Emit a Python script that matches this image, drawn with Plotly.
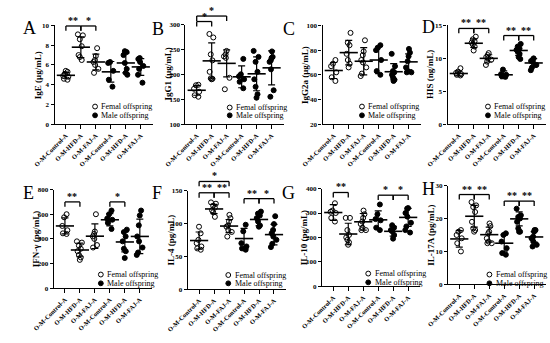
import plotly.graph_objects as go

W, H = 550, 343

# ---------------- data ----------------
categories = ["O-M-Control-A", "O-M-HFD-A", "O-M-FAJ-A",
              "O-M-Control-A", "O-M-HFD-A", "O-M-FAJ-A"]
legend_labels = ["Femal offspring", "Male offspring"]
panel_letters = ["A", "B", "C", "D", "E", "F", "G", "H"]
y_titles = ["IgE (μg/mL)", "IgG1 (μg/mL)", "IgG2a (μg/mL)", "HIS (ng/mL)",
            "IFN-γ (pg/mL)", "IL-4 (pg/mL)", "IL-10 (pg/mL)", "IL-17A (pg/mL)"]
y_ticks = [[0, 2, 4, 6, 8, 10], [100, 150, 200, 250, 300], [20, 40, 60, 80, 100],
           [0, 5, 10, 15], [0, 200, 400, 600, 800], [0, 50, 100, 150],
           [0, 100, 200, 300, 400], [0, 10, 20, 30]]

IgE_points = [[5.4, 5.3, 5.1, 4.9, 4.8, 4.6, 4.5],
              [9.1, 9.0, 8.6, 7.9, 7.0, 6.8, 6.5],
              [7.7, 6.9, 6.5, 6.3, 6.0, 5.6, 5.2],
              [6.3, 6.2, 5.4, 4.5, 3.8],
              [7.4, 7.3, 7.0, 6.2, 5.6, 5.2, 5.0],
              [6.7, 6.6, 6.3, 5.9, 5.6, 5.0, 4.2]]
IgE_mean = [4.95, 7.8, 6.3, 5.3, 6.2, 5.8]
IgE_sd = [0.3, 1.05, 0.8, 1.05, 1.0, 0.85]

IgG1_points = [[179, 178, 171, 165, 158, 155],
               [281, 274, 240, 228, 205, 192, 191, 190],
               [247, 240, 236, 233, 193, 170],
               [231, 200, 196, 190, 185, 172],
               [247, 235, 225, 205, 190, 175, 160, 153],
               [246, 235, 233, 228, 225, 210, 168, 155]]
IgG1_mean = [168, 227, 222, 195, 201, 213]
IgG1_sd = [10, 36, 27, 22, 34, 34]

IgG2a_points = [[72, 69, 67, 62, 58, 55],
                [94, 86, 84, 77, 72, 69, 66],
                [88, 79, 76, 72, 70, 66, 61, 59],
                [84, 82, 80, 72, 63, 60],
                [77, 67, 63, 62, 60, 58, 56, 55],
                [81, 78, 75, 71, 66, 63, 62, 62]]
IgG2a_mean = [63.5, 78, 71, 72, 62.5, 70.5]
IgG2a_sd = [6.5, 10, 11, 11, 6.5, 6.5]

HIS_points = [[8.5, 8.0, 7.8, 7.6, 7.5, 7.4],
              [13.3, 12.9, 12.6, 12.4, 12.1, 11.8, 11.2],
              [10.8, 10.5, 10.2, 10.0, 9.8, 9.5, 9.0],
              [8.3, 7.6, 7.5, 7.3, 7.2],
              [12.2, 11.8, 11.5, 11.3, 11.0, 10.7, 10.2, 9.9],
              [10.0, 9.8, 9.6, 9.4, 9.0, 8.6, 8.2]]
HIS_mean = [7.7, 12.3, 10.0, 7.5, 11.2, 9.3]
HIS_sd = [0.35, 0.65, 0.55, 0.6, 0.75, 0.65]

IFNg_points = [[600, 575, 505, 470, 445, 440],
               [380, 370, 345, 320, 300, 270, 250, 230],
               [600, 460, 440, 420, 400, 350, 330],
               [630, 600, 565, 555, 530, 480],
               [475, 455, 420, 380, 320, 300, 245],
               [630, 590, 510, 420, 380, 330, 290, 270]]
IFNg_mean = [505, 310, 422, 555, 375, 420]
IFNg_sd = [65, 55, 100, 50, 80, 140]

IL4_points = [[95, 85, 75, 70, 65, 62, 60],
              [132, 130, 127, 124, 120, 117, 110],
              [113, 108, 103, 97, 95, 90, 87, 80],
              [98, 88, 70, 65, 62, 60],
              [118, 115, 112, 108, 103, 97, 95],
              [111, 99, 90, 85, 80, 75, 69, 64]]
IL4_mean = [74, 122, 96, 77, 106, 83]
IL4_sd = [13, 7, 10, 15.5, 9.5, 15.5]

IL10_points = [[340, 310, 305, 300, 280, 265],
               [280, 280, 230, 210, 200, 190, 180, 170],
               [310, 295, 280, 265, 255, 240, 230, 230],
               [335, 295, 275, 270, 240, 230],
               [250, 240, 230, 225, 210, 195],
               [320, 318, 300, 285, 260, 245, 230, 220]]
IL10_mean = [302, 214, 264, 272, 225, 282]
IL10_sd = [32, 44, 34, 37, 20, 37]

IL17A_points = [[16.5, 16, 15, 14, 12.5, 10],
                [25, 24, 23.5, 22, 19, 17, 16.5, 16],
                [18.5, 17.7, 16, 15.5, 14, 13, 12.5, 12.5],
                [15.5, 15, 13, 11, 9.5, 9],
                [23, 21, 20.5, 20, 19, 17, 16, 16],
                [16.5, 16.5, 16, 14.5, 14, 13, 12, 11.5]]
IL17A_mean = [13.8, 20.7, 15.1, 12.5, 19.9, 14.4]
IL17A_sd = [2.5, 3.3, 2.3, 2.6, 2.1, 1.6]

# significance brackets: (group i, group j, level in data units, label)
IgE_sig = [(0, 1, 9.95, "**"), (1, 2, 9.95, "*")]
IgG1_sig = [(0, 1, 306, "*"), (0, 2, 317, "*")]
IgG2a_sig = []
HIS_sig = [(0, 1, 14.55, "**"), (1, 2, 14.55, "**"), (3, 4, 13.47, "**"), (4, 5, 13.47, "**")]
IFNg_sig = [(0, 1, 700, "**"), (3, 4, 700, "*")]
IL4_sig = [(0, 1, 146.6, "**"), (1, 2, 146.6, "**"), (0, 2, 163.8, "*"),
           (3, 4, 137.7, "**"), (4, 5, 137.7, "*")]
IL10_sig = [(0, 1, 384, "**"), (3, 4, 373, "*"), (4, 5, 373, "*")]
IL17A_sig = [(0, 1, 27.3, "**"), (1, 2, 27.3, "**"), (3, 4, 25.3, "**"), (4, 5, 25.3, "**")]

all_points = [IgE_points, IgG1_points, IgG2a_points, HIS_points,
              IFNg_points, IL4_points, IL10_points, IL17A_points]
all_means = [IgE_mean, IgG1_mean, IgG2a_mean, HIS_mean,
             IFNg_mean, IL4_mean, IL10_mean, IL17A_mean]
all_sds = [IgE_sd, IgG1_sd, IgG2a_sd, HIS_sd, IFNg_sd, IL4_sd, IL10_sd, IL17A_sd]
all_sigs = [IgE_sig, IgG1_sig, IgG2a_sig, HIS_sig, IFNg_sig, IL4_sig, IL10_sig, IL17A_sig]

# ---------------- layout geometry (pixels) ----------------
AX_W = 102
geom = [
    dict(L=35, top=22, bot=123, letter=(9, 25), leg=42, rows=(105, 114)),
    dict(L=171, top=21, bot=123, letter=(142, 26), leg=46, rows=(106, 114)),
    dict(L=313.5, top=22, bot=123, letter=(279, 26), leg=41, rows=(105, 114)),
    dict(L=443.5, top=22, bot=123, letter=(423.5, 24), leg=42, rows=(105, 114)),
    dict(L=34, top=190, bot=291, letter=(7.5, 194), leg=49, rows=(277, 286)),
    dict(L=173.5, top=191, bot=292, letter=(141, 194), leg=42, rows=(277.5, 286)),
    dict(L=313, top=189, bot=289, letter=(278.5, 193.5), leg=48, rows=(276, 285)),
    dict(L=444, top=186, bot=287, letter=(423.5, 189.5), leg=43, rows=(277, 286)),
]
XR = [-0.75, 5.8]
SERIF = "Liberation Serif"


def px(x):
    return x / W


def py(y):
    return 1 - y / H


fig = go.Figure()
shapes = []
annotations = []
layout = {}

for k in range(8):
    g = geom[k]
    pts = all_points[k]
    yt = y_ticks[k]
    yr = [yt[0], yt[-1]]
    xa = "x" if k == 0 else f"x{k + 1}"
    ya = "y" if k == 0 else f"y{k + 1}"
    xname = "xaxis" if k == 0 else f"xaxis{k + 1}"
    yname = "yaxis" if k == 0 else f"yaxis{k + 1}"

    for sexi, (sym, gidx) in enumerate([("circle-open", [0, 1, 2]), ("circle", [3, 4, 5])]):
        xs, ys = [], []
        for gi in gidx:
            xs += [gi] * len(pts[gi])
            ys += pts[gi]
        fig.add_trace(go.Box(
            x=xs, y=ys, xaxis=xa, yaxis=ya, name=legend_labels[sexi],
            boxpoints="all", jitter=0.7, pointpos=0, width=0.6,
            fillcolor="rgba(0,0,0,0)", line=dict(width=0, color="rgba(0,0,0,0)"),
            whiskerwidth=0,
            marker=dict(symbol=sym, size=5, color="black",
                        line=dict(width=1, color="black")),
            hoverinfo="skip", showlegend=False))

    fig.add_trace(go.Scatter(
        x=list(range(6)), y=all_means[k], xaxis=xa, yaxis=ya, mode="markers",
        marker=dict(symbol="line-ew", size=13, color="black",
                    line=dict(width=1.6, color="black")),
        error_y=dict(type="data", array=all_sds[k], visible=True, color="black",
                     thickness=1.2, width=3.5),
        cliponaxis=False, hoverinfo="skip", showlegend=False))

    layout[xname] = dict(
        domain=[px(g["L"]), px(g["L"] + AX_W)], anchor=ya, range=XR,
        tickmode="array", tickvals=list(range(6)), ticktext=categories,
        tickangle=-45, ticks="outside", ticklen=4, tickwidth=1, tickcolor="black",
        showline=True, linewidth=1.3, linecolor="black", showgrid=False, zeroline=False,
        tickfont=dict(family=SERIF, size=6.5, color="black", weight="bold"))
    layout[yname] = dict(
        domain=[py(g["bot"]), py(g["top"])], anchor=xa, range=yr,
        tickmode="array", tickvals=yt, ticks="outside", ticklen=3, tickwidth=1,
        tickcolor="black", showline=True, linewidth=1.3, linecolor="black",
        showgrid=False, zeroline=False,
        tickfont=dict(family=SERIF, size=7, color="black", weight="bold"))

    # brackets
    hpx = g["bot"] - g["top"]
    tick_d = 5 / hpx

    def xd(v):
        return (v - XR[0]) / (XR[1] - XR[0])

    def yd(v):
        return (v - yr[0]) / (yr[1] - yr[0])

    for (i, j, lvl, lab) in all_sigs[k]:
        ref = dict(xref=f"{xa} domain", yref=f"{ya} domain")
        line = dict(color="black", width=1.3)
        y0 = yd(lvl)
        shapes.append(dict(type="line", x0=xd(i), x1=xd(j), y0=y0, y1=y0, line=line, **ref))
        shapes.append(dict(type="line", x0=xd(i), x1=xd(i), y0=y0, y1=y0 - tick_d, line=line, **ref))
        shapes.append(dict(type="line", x0=xd(j), x1=xd(j), y0=y0, y1=y0 - tick_d, line=line, **ref))
        annotations.append(dict(text=f"<b>{lab}</b>", x=xd((i + j) / 2), y=y0,
                                xanchor="center", yanchor="bottom", showarrow=False,
                                yshift=-2, font=dict(family=SERIF, size=10, color="black"),
                                **ref))

    # panel letter
    annotations.append(dict(text=panel_letters[k], x=px(g["letter"][0]), y=py(g["letter"][1]),
                            xref="paper", yref="paper", xanchor="center", yanchor="middle",
                            showarrow=False, font=dict(family=SERIF, size=18, color="black")))
    # y-axis title
    annotations.append(dict(text=f"<b>{y_titles[k]}</b>", x=px(g["L"] - 18),
                            y=py((g["top"] + g["bot"]) / 2), xref="paper", yref="paper",
                            xanchor="center", yanchor="middle", textangle=-90, showarrow=False,
                            font=dict(family=SERIF, size=9, color="black")))
    # legend (open / filled circle + label)
    cx = g["L"] + g["leg"]
    for r, (lab, fill) in enumerate(zip(legend_labels, ["white", "black"])):
        cy = g["rows"][r]
        shapes.append(dict(type="circle", xref="paper", yref="paper",
                           x0=px(cx - 2.5), x1=px(cx + 2.5), y0=py(cy + 2.5), y1=py(cy - 2.5),
                           line=dict(color="black", width=1), fillcolor=fill))
        annotations.append(dict(text=lab, x=px(cx + 4.5), y=py(cy), xref="paper", yref="paper",
                                xanchor="left", yanchor="middle", showarrow=False,
                                font=dict(family=SERIF, size=8, color="black")))

fig.update_layout(
    width=W, height=H, margin=dict(l=0, r=0, t=0, b=0),
    paper_bgcolor="white", plot_bgcolor="white", showlegend=False,
    boxmode="overlay", shapes=shapes, annotations=annotations, **layout)

fig.write_html("out.html", config={"displayModeBar": False},
               post_script="document.body.style.margin='0px';")
